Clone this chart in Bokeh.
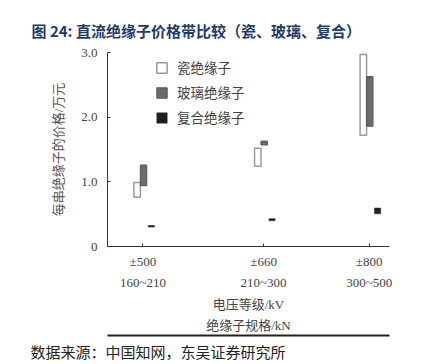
from bokeh.plotting import figure
from bokeh.models import (ColumnDataSource, Range1d, FixedTicker, Legend,
                          LegendItem, Title, LinearAxis)
from bokeh.transform import dodge
from bokeh.embed import file_html
from bokeh.resources import INLINE

# ---- data ----
voltages = [500, 660, 800]
voltage_labels = ["±500", "±660", "±800"]
spec_labels = ["160~210", "210~300", "300~500"]
porcelain_low = [0.76, 1.24, 1.72]
porcelain_high = [0.99, 1.52, 2.97]
glass_low = [0.94, 1.57, 1.86]
glass_high = [1.26, 1.63, 2.63]
composite_low = [0.30, 0.40, 0.505]
composite_high = [0.325, 0.43, 0.595]
y_ticks = [0, 1, 2, 3]
y_tick_labels = ["0", "1.0", "2.0", "3.0"]
series_names = ["瓷绝缘子", "玻璃绝缘子", "复合绝缘子"]

title_text = "图 24:  直流绝缘子价格带比较（瓷、玻璃、复合）"
y_label = "每串绝缘子的价格/万元"
x_label = "电压等级/kV\n绝缘子规格/kN"
source_text = "数据来源：中国知网，东吴证券研究所"

FONT = "Liberation Serif, Noto Sans CJK SC"
CJK = "Noto Sans CJK SC"

W, H = 421, 364
FL, FR, FT, FB = 107, 389, 52, 247

src = ColumnDataSource(dict(
    v=voltages,
    pl=porcelain_low, ph=porcelain_high,
    gl=glass_low, gh=glass_high,
    cl=composite_low, ch=composite_high,
))

p = figure(width=W, height=H, output_backend="svg", toolbar_location=None,
           x_range=Range1d(453, 827), y_range=Range1d(0, 3),
           min_border_left=FL, min_border_right=W - FR, min_border_top=FT,
           min_border_bottom=H - FB)
p.outline_line_color = None
p.xgrid.visible = False
p.ygrid.visible = False
p.background_fill_color = "white"
p.border_fill_color = "white"

# title
p.title.text = title_text
p.title.align = "left"
p.title.offset = 31 - FL
p.title.standoff = 24
p.title.text_font = CJK
p.title.text_font_size = "15px"
p.title.text_font_style = "bold"
p.title.text_color = "#1f3c6e"

r_por = p.vbar(x=dodge("v", -7.7, range=p.x_range), width=8.6, bottom="pl", top="ph",
               source=src, fill_color="white", line_color="#9a9a9a", line_width=1.5)
r_gla = p.vbar(x=dodge("v", 0.8, range=p.x_range), width=8.6, bottom="gl", top="gh",
               source=src, fill_color="#6b6b6b", line_color="#555555", line_width=1)
r_com = p.vbar(x=dodge("v", 11.2, range=p.x_range), width=8.2, bottom="cl", top="ch",
               source=src, fill_color="#231f20", line_color="#231f20", line_width=0.5)

xa = p.xaxis[0]
xa.ticker = FixedTicker(ticks=voltages)
xa.major_label_overrides = {v: f"{a}\n{b}" for v, a, b in zip(voltages, voltage_labels, spec_labels)}
xa.major_tick_in = 3
xa.major_tick_out = 0
xa.minor_tick_in = 0
xa.minor_tick_out = 0
xa.axis_line_color = "#333333"
xa.major_tick_line_color = "#333333"
xa.major_label_text_font = FONT
xa.major_label_text_font_size = "13px"
xa.major_label_text_color = "#444444"
xa.major_label_text_line_height = 1.4
xa.major_label_standoff = 7
xa.axis_label = x_label
xa.axis_label_text_font = FONT
xa.axis_label_text_font_size = "13px"
xa.axis_label_text_font_style = "normal"
xa.axis_label_text_color = "#444444"
xa.axis_label_text_line_height = 1.4
xa.axis_label_standoff = 4

ya = p.yaxis[0]
ya.ticker = FixedTicker(ticks=y_ticks)
ya.major_label_overrides = {t: s for t, s in zip(y_ticks, y_tick_labels)}
ya.major_tick_in = 3
ya.major_tick_out = 0
ya.minor_tick_in = 0
ya.minor_tick_out = 0
ya.axis_line_color = "#333333"
ya.major_tick_line_color = "#333333"
ya.major_label_text_font = FONT
ya.major_label_text_font_size = "13px"
ya.major_label_text_color = "#444444"
ya.major_label_standoff = 10
ya.axis_label = y_label
ya.axis_label_text_font = FONT
ya.axis_label_text_font_size = "13px"
ya.axis_label_text_font_style = "normal"
ya.axis_label_text_color = "#555555"
ya.axis_label_standoff = 12

# rule under the chart: a bare axis line
rule = LinearAxis(ticker=FixedTicker(ticks=[]), axis_line_width=2,
                  axis_line_color="#222222", major_tick_in=0, major_tick_out=0,
                  minor_tick_in=0, minor_tick_out=0, major_label_text_alpha=0)
p.add_layout(rule, "below")

# source note
src_title = Title(text=source_text, align="left", offset=30 - FL, standoff=6,
                  text_font=CJK, text_font_size="15px", text_font_style="normal",
                  text_color="#222222")
p.add_layout(src_title, "below")

legend = Legend(items=[LegendItem(label=n, renderers=[r]) for n, r in
                       zip(series_names, [r_por, r_gla, r_com])],
                location=(48, 119), orientation="vertical",
                glyph_width=13, glyph_height=13, label_height=13,
                spacing=5, padding=0, margin=0, label_standoff=9,
                label_text_font=FONT, label_text_font_size="13.5px",
                label_text_color="#444444", background_fill_alpha=0,
                border_line_alpha=0)
p.add_layout(legend)

open("out.html", "w").write(file_html(p, INLINE))
